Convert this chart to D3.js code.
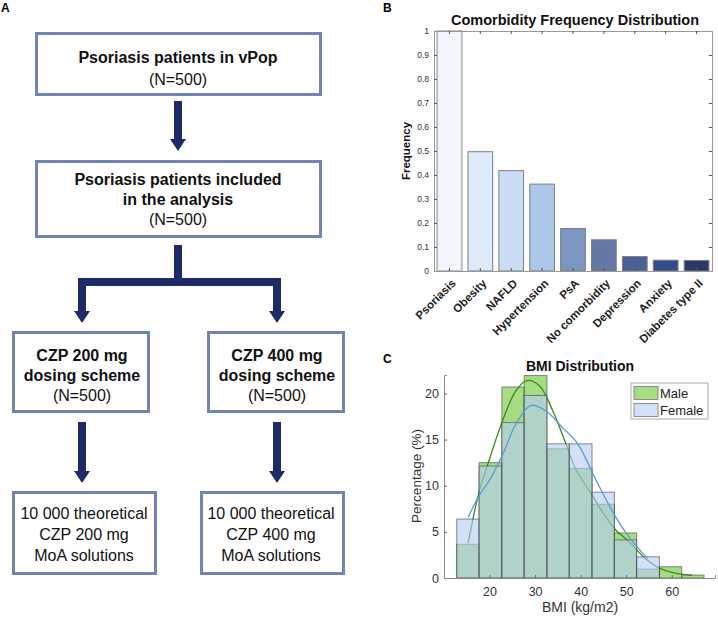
<!DOCTYPE html>
<html>
<head>
<meta charset="utf-8">
<script src="https://cdn.jsdelivr.net/npm/d3@7"></script>
<style>
  body { margin: 0; background: #fff; }
  svg { display: block; font-family: "Liberation Sans", Arial, sans-serif; }
</style>
</head>
<body>
<svg id="fig" width="718" height="618"></svg>
<script>
// ---- DATA ----
// panel B
const comorbidities = ['Psoriasis', 'Obesity', 'NAFLD', 'Hypertension', 'PsA', 'No comorbidity', 'Depression', 'Anxiety', 'Diabetes type II'];
const comorbidityFreq = [1.0, 0.497, 0.418, 0.362, 0.177, 0.13, 0.06, 0.045, 0.044];
const comorbidityColors = ['#f3f7fd', '#deeaf9', '#cbddf4', '#adc7e8', '#7b96c0', '#6478a6', '#4a6196', '#344c87', '#28396a'];
const freqTicks = [0, 0.1, 0.2, 0.3, 0.4, 0.5, 0.6, 0.7, 0.8, 0.9, 1];

// panel C
const bmiBinEdges = [12.8, 17.7, 22.7, 27.6, 32.6, 37.5, 42.5, 47.4, 52.3, 57.3, 62.2, 67.1];
const malePct   = [3.66, 12.5, 20.7, 21.94, 14.0, 11.88, 8.0, 4.88, 0.97, 1.22, 0.32];
const femalePct = [6.39, 12.14, 16.84, 19.78, 14.54, 14.54, 9.3, 4.13, 2.3, 0, 0];
const maleCurve = [[15.3, 3.8], [17.8, 9.5], [20, 12.9], [22.9, 17.1], [25.8, 20.3], [28.2, 21.4], [31, 20.8],
  [33.9, 18.1], [36.8, 14.5], [39, 11.7], [42.5, 9.0], [45, 7.0], [47.7, 5.2], [50.7, 3.9], [54, 2.2],
  [57.2, 1.1], [61, 0.5], [64.5, 0.3]];
const femaleCurve = [[15.3, 6.6], [17.7, 8.9], [20, 10.6], [22.9, 13.4], [25.8, 16.7], [29.1, 18.7], [32.4, 18.1],
  [36, 16.3], [39.3, 14.6], [43.4, 10.6], [47, 7.2], [50.7, 4.4], [54.7, 2.1]];
const bmiTicks = [20, 30, 40, 50, 60];
const pctTicks = [0, 5, 10, 15, 20];
const sexes = ['Male', 'Female'];

// panel A
const flowTop = [{ t: 'Psoriasis patients in vPop', b: true }, { t: '(N=500)' }];
const flowMid = [{ t: 'Psoriasis patients included', b: true }, { t: 'in the analysis', b: true }, { t: '(N=500)' }];
const flowDose = [
  [{ t: 'CZP 200 mg', b: true }, { t: 'dosing scheme', b: true }, { t: '(N=500)' }],
  [{ t: 'CZP 400 mg', b: true }, { t: 'dosing scheme', b: true }, { t: '(N=500)' }]
];
const flowSol = [
  [{ t: '10 000 theoretical' }, { t: 'CZP 200 mg' }, { t: 'MoA solutions' }],
  [{ t: '10 000 theoretical' }, { t: 'CZP 400 mg' }, { t: 'MoA solutions' }]
];

const svg = d3.select('#fig');

function panelLabel(txt, x, y) {
  svg.append('text').attr('x', x).attr('y', y).attr('font-size', 12).attr('font-weight', 'bold').text(txt);
}

// ---- PANEL A: flowchart ----
const A = svg.append('g');
const boxStroke = '#7184b3';
const arrowCol = '#1f2b66';

function box(x, y, w, h) {
  A.append('rect').attr('x', x).attr('y', y).attr('width', w).attr('height', h)
    .attr('fill', '#fff').attr('stroke', boxStroke).attr('stroke-width', 3);
}
function lines(cx, arr, y0, dy) {
  arr.forEach((l, i) => {
    A.append('text').attr('x', cx).attr('y', y0 + i * dy)
      .attr('text-anchor', 'middle').attr('font-size', 16)
      .attr('font-weight', l.b ? 'bold' : 'normal')
      .attr('fill', '#111').text(l.t);
  });
}
function arrowDown(x, y0, y1) {
  const head = 12, hw = 8, sw = 4;
  A.append('path')
    .attr('d', `M${x - sw},${y0}V${y1 - head}H${x - hw}L${x},${y1}L${x + hw},${y1 - head}H${x + sw}V${y0}Z`)
    .attr('fill', arrowCol);
}

box(36.5, 33.5, 284, 61);
lines(178, flowTop, 63, 22);
arrowDown(178, 101, 151);
box(36.5, 161.5, 284, 75);
lines(178, flowMid, 185, 20);

// split connector
A.append('rect').attr('x', 174).attr('y', 245).attr('width', 8).attr('height', 40).attr('fill', arrowCol);
A.append('rect').attr('x', 78).attr('y', 278).attr('width', 203).attr('height', 8).attr('fill', arrowCol);
const colX = [82, 277];
colX.forEach(cx => arrowDown(cx, 280, 323));

[[13.5, 135], [208.5, 135]].forEach((b, i) => {
  box(b[0], 332.5, b[1], 79);
  lines(colX[i], flowDose[i], 361, 20);
  arrowDown(colX[i], 422, 483);
});
const solCx = [84, 271];
[[13.5, 142], [201.5, 142]].forEach((b, i) => {
  box(b[0], 492.5, b[1], 81);
  lines(solCx[i], flowSol[i], 519, 21);
});
panelLabel('A', 1, 12);

// ---- PANEL B: comorbidity bars ----
const B = svg.append('g');
const bL = 434, bR = 712, bT = 31, bB = 271;
const xB = d3.scaleBand().domain(comorbidities).range([bL, bR]).paddingInner(0.2).paddingOuter(0.1);
const yB = d3.scaleLinear().domain([0, 1]).range([bB, bT]);
const frameCol = '#999';

B.selectAll('rect.bar').data(comorbidities).join('rect')
  .attr('class', 'bar')
  .attr('x', d => xB(d)).attr('width', xB.bandwidth())
  .attr('y', (d, i) => yB(comorbidityFreq[i]))
  .attr('height', (d, i) => yB(0) - yB(comorbidityFreq[i]))
  .attr('fill', (d, i) => comorbidityColors[i])
  .attr('stroke', (d, i) => i === 0 ? '#bdbdbd' : '#7d7d7d')
  .attr('stroke-width', (d, i) => i === 0 ? 2 : 1);

const axLeftB = B.append('g').attr('transform', `translate(${bL},0)`)
  .call(d3.axisLeft(yB).tickValues(freqTicks).tickSize(-3).tickPadding(5).tickFormat(d3.format('~g')));
const axRightB = B.append('g').attr('transform', `translate(${bR},0)`)
  .call(d3.axisRight(yB).tickValues(freqTicks).tickSize(-3).tickFormat(''));
const axTopB = B.append('g').attr('transform', `translate(0,${bT})`)
  .call(d3.axisTop(xB).tickSize(-3).tickFormat(''));
const axBotB = B.append('g').attr('transform', `translate(0,${bB})`)
  .call(d3.axisBottom(xB).tickSize(-3).tickFormat(''));
[axLeftB, axRightB, axTopB, axBotB].forEach(g => {
  g.select('.domain').attr('stroke', frameCol);
  g.selectAll('.tick line').attr('stroke', '#555');
});
axLeftB.selectAll('text').attr('font-size', 8.5).attr('fill', '#333').attr('font-family', '"Liberation Sans", Arial, sans-serif');

B.selectAll('text.xl').data(comorbidities).join('text')
  .attr('class', 'xl')
  .attr('transform', d => `translate(${xB(d) + xB.bandwidth() / 2 + 7},${bB + 13}) rotate(-45)`)
  .attr('text-anchor', 'end').attr('font-size', 11.5).attr('font-weight', 'bold').attr('fill', '#222')
  .text(d => d);

B.append('text').attr('x', (bL + bR) / 2 + 2).attr('y', 25).attr('text-anchor', 'middle')
  .attr('font-size', 14.5).attr('font-weight', 'bold').attr('fill', '#111')
  .text('Comorbidity Frequency Distribution');
B.append('text').attr('transform', `translate(410,151) rotate(-90)`).attr('text-anchor', 'middle')
  .attr('font-size', 11.5).attr('font-weight', 'bold').attr('fill', '#111').text('Frequency');
panelLabel('B', 383, 12);

// ---- PANEL C: BMI histogram ----
const C = svg.append('g');
const cL = 444, cR = 715, cT = 375, cB = 578;
const xC = d3.scaleLinear().domain([10, 69.5]).range([cL, cR]);
const yC = d3.scaleLinear().domain([0, 22]).range([cB, cT]);
const sexColor = { Male: '#6ec532', Female: '#b4cdf5' };
const curveColor = { Male: '#3b8a1c', Female: '#5b9bd5' };
const line = d3.line().x(d => xC(d[0])).y(d => yC(d[1])).curve(d3.curveCatmullRom.alpha(0.5));

function histogram(vals, sex) {
  C.append('g').selectAll('rect').data(vals).join('rect')
    .attr('x', (d, i) => xC(bmiBinEdges[i]))
    .attr('width', (d, i) => xC(bmiBinEdges[i + 1]) - xC(bmiBinEdges[i]))
    .attr('y', d => yC(d)).attr('height', d => yC(0) - yC(d))
    .attr('fill', sexColor[sex]).attr('fill-opacity', 0.6)
    .attr('stroke', '#333').attr('stroke-opacity', 0.55).attr('stroke-width', 1)
    .style('display', d => d > 0 ? null : 'none');
}
histogram(malePct, 'Male');
C.append('path').datum(maleCurve).attr('d', line).attr('fill', 'none')
  .attr('stroke', curveColor.Male).attr('stroke-width', 1.3);
histogram(femalePct, 'Female');
C.append('path').datum(femaleCurve).attr('d', line).attr('fill', 'none')
  .attr('stroke', curveColor.Female).attr('stroke-width', 1.3);

const axLeftC = C.append('g').attr('transform', `translate(${cL},0)`)
  .call(d3.axisLeft(yC).tickValues(pctTicks).tickSize(-3).tickPadding(5));
const axBotC = C.append('g').attr('transform', `translate(0,${cB})`)
  .call(d3.axisBottom(xC).tickValues(bmiTicks).tickSize(-3).tickPadding(9));
[axLeftC, axBotC].forEach(g => {
  g.select('.domain').attr('stroke', '#8a8a8a');
  g.selectAll('.tick line').attr('stroke', '#666');
  g.selectAll('text').attr('font-size', 12.5).attr('fill', '#333').attr('font-family', '"Liberation Sans", Arial, sans-serif');
});

C.append('text').attr('x', 580).attr('y', 371).attr('text-anchor', 'middle')
  .attr('font-size', 14).attr('font-weight', 'bold').attr('fill', '#111').text('BMI Distribution');
C.append('text').attr('x', 580).attr('y', 612).attr('text-anchor', 'middle')
  .attr('font-size', 14).attr('fill', '#333').text('BMI (kg/m2)');
C.append('text').attr('transform', 'translate(421,476) rotate(-90)').attr('text-anchor', 'middle')
  .attr('font-size', 13.5).attr('fill', '#333').text('Percentage (%)');

// legend
const lg = C.append('g').attr('transform', 'translate(631,383)');
lg.append('rect').attr('width', 77).attr('height', 36).attr('fill', '#fff').attr('stroke', '#aaa');
sexes.forEach((s, i) => {
  lg.append('rect').attr('x', 3).attr('y', 3.5 + i * 17).attr('width', 24).attr('height', 13)
    .attr('fill', sexColor[s]).attr('fill-opacity', 0.6).attr('stroke', '#777').attr('stroke-width', 0.8);
  lg.append('text').attr('x', 29).attr('y', 14.5 + i * 17).attr('font-size', 13).attr('fill', '#222').text(s);
});
panelLabel('C', 383, 363);
</script>
</body>
</html>
